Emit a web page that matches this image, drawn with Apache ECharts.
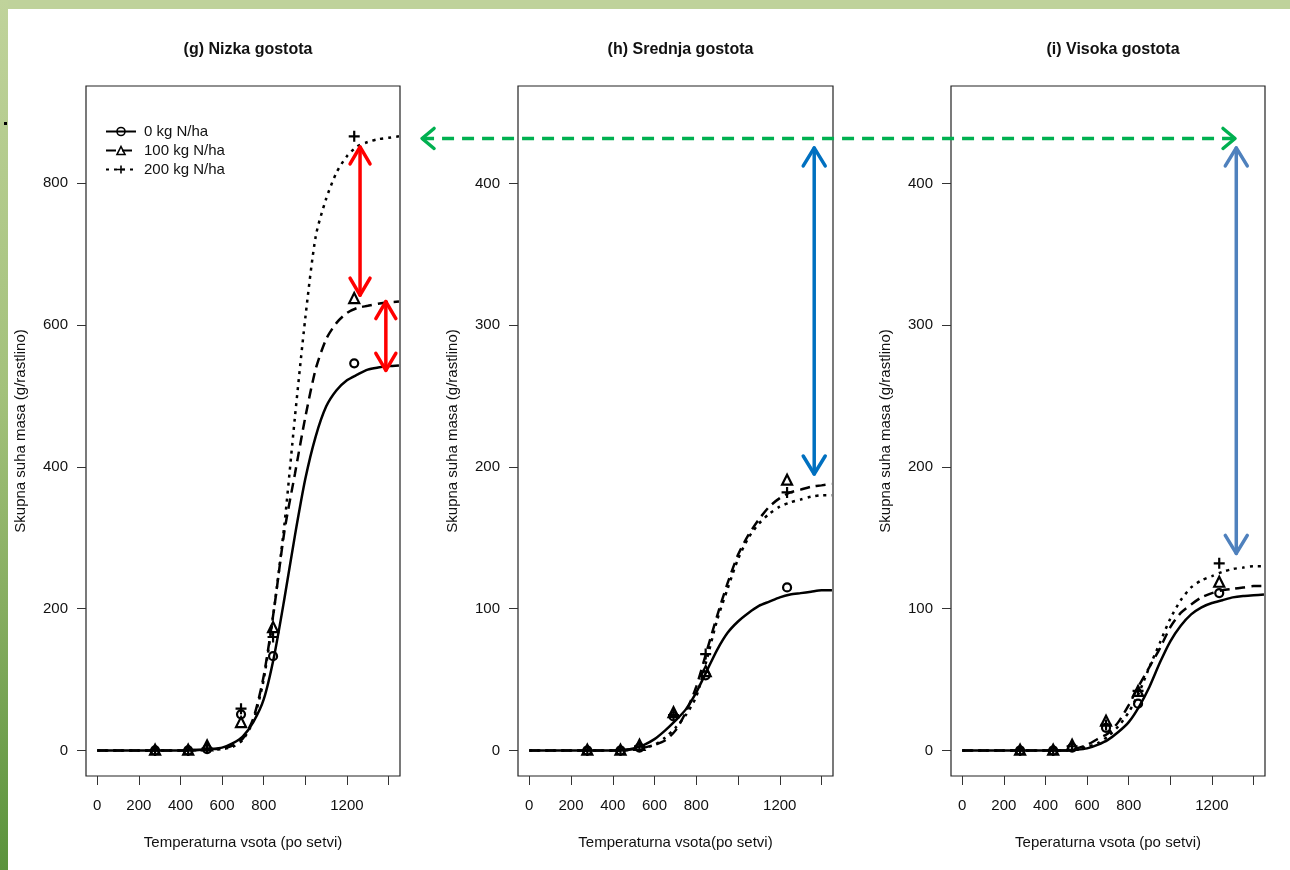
<!DOCTYPE html>
<html><head><meta charset="utf-8">
<script src="https://cdn.jsdelivr.net/npm/echarts@6/dist/echarts.min.js"></script>
<style>html,body{margin:0;padding:0;background:#fff}#c{width:1290px;height:870px}</style>
</head><body><div id="c"></div>
<script>
// ---------- data ----------
const seriesNames = ['0 kg N/ha', '100 kg N/ha', '200 kg N/ha'];
const panelTitles = ['(g) Nizka gostota', '(h) Srednja gostota', '(i) Visoka gostota'];
const xTitles = ['Temperaturna vsota (po setvi)', 'Temperaturna vsota(po setvi)', 'Teperaturna vsota (po setvi)'];
const yTitle = 'Skupna suha masa (g/rastlino)';
const xTicks = [0, 200, 400, 600, 800, 1000, 1200, 1400];
const xTickLabels = [0, 200, 400, 600, 800, 1200];
const yTicksG = [0, 200, 400, 600, 800];
const yTicksHI = [0, 100, 200, 300, 400];

// fitted curves
const curveX = [0, 100, 200, 300, 400, 450, 500, 550, 600, 650, 700, 750, 800, 850, 900, 950, 1000, 1050, 1100, 1150, 1200, 1250, 1300, 1350, 1400, 1450];
const curveG0 = [0, 0, 0, 0, 0, 0.5, 1, 2, 4, 10, 20, 40, 72, 133, 215, 303, 383, 443, 485, 508, 522, 530, 537, 540, 542, 543];
const curveG100 = [0, 0, 0, 0, 0, 0.5, 1, 2, 3, 7, 17, 45, 105, 200, 310, 390, 470, 538, 580, 603, 617, 624, 627, 630, 632, 633];
const curveG200 = [0, 0, 0, 0, 0, 0, 0.5, 1, 2, 5, 15, 42, 100, 200, 320, 470, 610, 725, 778, 815, 838, 852, 858, 862, 864, 866];
const curveH0 = [0, 0, 0, 0, 0, 0.5, 1.5, 4, 8, 14, 21, 29, 41, 56, 71, 83, 91, 97, 102, 105, 108, 110, 111, 112, 113, 113];
const curveH100 = [0, 0, 0, 0, 0, 0, 1, 2, 4, 7, 14, 27, 45, 70, 95, 118, 138, 152, 163, 172, 178, 182, 184, 186, 187, 188];
const curveH200 = [0, 0, 0, 0, 0, 0, 1, 2, 4, 9, 16, 25, 38, 64, 92, 114, 135, 150, 160, 167, 172, 175, 177, 179, 180, 180];
const curveI0 = [0, 0, 0, 0, 0, 0, 0, 0.5, 1.5, 4, 7.5, 13, 20, 31, 45, 62, 77, 88, 96, 101, 104, 106, 108, 109, 109.5, 110];
const curveI100 = [0, 0, 0, 0, 0, 0, 0, 1.5, 4, 8, 12, 20, 32, 46, 59, 72, 87, 97, 103, 108, 111, 113, 114, 115, 116, 116];
const curveI200 = [0, 0, 0, 0, 0, 0, 0, 1, 2.5, 5, 10, 17, 27, 41, 59, 76, 93, 106, 115, 120, 123, 126, 128, 129, 130, 130];

// measured points
const pointX = [278, 437, 528, 691, 845, 1235];
const pointsG0 = [0, 0, 2, 51, 133, 546];
const pointsG100 = [1, 1, 7, 40, 174, 638];
const pointsG200 = [0, 0, 3, 59, 160, 866];
const pointsH0 = [0, 0, 2, 24, 53, 115];
const pointsH100 = [0.5, 0.5, 4, 27, 56, 191];
const pointsH200 = [0, 0, 3, 25, 68, 182];
const pointsI0 = [0, 0, 2, 16, 33, 111];
const pointsI100 = [0.5, 0.5, 4, 21, 42, 119];
const pointsI200 = [0, 0, 3, 18, 42, 132];

// ---------- style ----------
const FONT = '"Liberation Sans", Arial, Helvetica, sans-serif';
const gridBoxes = [
  { left: 86, top: 86, width: 314, height: 690 },
  { left: 518, top: 86, width: 315, height: 690 },
  { left: 951, top: 86, width: 314, height: 690 }
];
const xRange = [-54, 1455];
const yRanges = [[-36, 937], [-18, 468.7], [-18, 468.7]];
const yTickSets = [yTicksG, yTicksHI, yTicksHI];
const curves = [[curveG0, curveG100, curveG200], [curveH0, curveH100, curveH200], [curveI0, curveI100, curveI200]];
const points = [[pointsG0, pointsG100, pointsG200], [pointsH0, pointsH100, pointsH200], [pointsI0, pointsI100, pointsI200]];
const lineTypes = ['solid', [10, 6], [3, 5]];
const PLUS = 'path://M5,0L5,10M0,5L10,5';
const symbols = ['circle', 'triangle', PLUS];
const symbolSizes = [8, 10, 11];

const chart = echarts.init(document.getElementById('c'), null, { renderer: 'canvas' });

const grid = gridBoxes.map(b => Object.assign({ show: true, borderColor: '#222', borderWidth: 1.2, backgroundColor: 'transparent' }, b));

const xAxis = gridBoxes.map((b, i) => ({
  type: 'value', gridIndex: i, min: xRange[0], max: xRange[1], position: 'bottom',
  name: xTitles[i], nameLocation: 'middle', nameGap: 59,
  nameTextStyle: { fontSize: 15, color: '#111', fontFamily: FONT },
  axisLine: { show: false, onZero: false },
  axisTick: { show: true, inside: false, customValues: xTicks, length: 9, lineStyle: { color: '#333', width: 1 } },
  axisLabel: { customValues: xTickLabels, margin: 22, fontSize: 15, color: '#111', fontFamily: FONT, formatter: v => String(v) },
  splitLine: { show: false }
}));

const yAxis = gridBoxes.map((b, i) => ({
  type: 'value', gridIndex: i, min: yRanges[i][0], max: yRanges[i][1], position: 'left',
  name: yTitle, nameLocation: 'middle', nameGap: 58, nameRotate: 90,
  nameTextStyle: { fontSize: 15, color: '#111', fontFamily: FONT },
  axisLine: { show: false, onZero: false },
  axisTick: { show: true, inside: false, customValues: yTickSets[i], length: 9, lineStyle: { color: '#333', width: 1 } },
  axisLabel: { customValues: yTickSets[i], margin: 18, fontSize: 15, color: '#111', fontFamily: FONT, formatter: v => String(v) },
  splitLine: { show: false }
}));

const series = [];
// curves first (legend icons come from the first series of each name)
for (let p = 0; p < 3; p++) {
  for (let s = 0; s < 3; s++) {
    series.push({
      type: 'line', name: seriesNames[s], xAxisIndex: p, yAxisIndex: p,
      data: curveX.map((x, k) => [x, curves[p][s][k]]),
      showSymbol: false, symbol: symbols[s], symbolSize: symbolSizes[s],
      smooth: 0.25, clip: true, silent: true,
      itemStyle: { color: 'rgba(0,0,0,0)', borderColor: '#000', borderWidth: 1.6 },
      lineStyle: { color: '#000', width: 2.5, type: lineTypes[s] },
      z: 2
    });
  }
}
for (let p = 0; p < 3; p++) {
  for (let s = 0; s < 3; s++) {
    series.push({
      type: 'scatter', name: seriesNames[s], xAxisIndex: p, yAxisIndex: p,
      data: pointX.map((x, k) => [x, points[p][s][k]]),
      symbol: symbols[s], symbolSize: symbolSizes[s], silent: true,
      itemStyle: { color: 'rgba(0,0,0,0)', borderColor: '#000', borderWidth: 2.2, opacity: 1 },
      z: 3
    });
  }
}

const bgGraphics = [
  { type: 'rect', id: 'bgTop', shape: { x: 0, y: 0, width: 1290, height: 9 }, style: { fill: '#bfd29b' }, z: -10, silent: true },
  { type: 'rect', id: 'bgLeft', shape: { x: 0, y: 0, width: 8, height: 870 },
    style: { fill: new echarts.graphic.LinearGradient(0, 0, 0, 1, [
      { offset: 0, color: '#c0d39b' }, { offset: 0.45, color: '#a3c17b' },
      { offset: 0.7, color: '#86ad60' }, { offset: 1, color: '#5b933d' }]) }, z: -10, silent: true },
  { type: 'rect', id: 'dot', shape: { x: 4, y: 122, width: 3, height: 3 }, style: { fill: '#000' }, z: 10, silent: true }
];

const option = {
  backgroundColor: '#fff',
  animation: false,
  title: panelTitles.map((t, i) => ({
    text: t, left: gridBoxes[i].left + gridBoxes[i].width / 2, top: 37, textAlign: 'center',
    textStyle: { fontSize: 16, fontWeight: 'bold', color: '#111', fontFamily: FONT }
  })),
  legend: {
    data: seriesNames, orient: 'vertical', left: 100, top: 119,
    itemWidth: 30, itemHeight: 10, itemGap: 4, selectedMode: false,
    textStyle: { fontSize: 15, lineHeight: 15, color: '#111', fontFamily: FONT, padding: [0, 0, 0, 3] },
    itemStyle: { color: 'rgba(0,0,0,0)', borderColor: '#000', borderWidth: 1.6 },
    lineStyle: { width: 2 }
  },
  grid, xAxis, yAxis, series,
  graphic: { elements: bgGraphics }
};
chart.setOption(option);

// ---------- annotation arrows (anchored in data space) ----------
const annotations = [
  { id: 'r1', g1: 0, a: [1263, 851], g2: 0, b: [1263, 642], color: '#ff0000', width: 3.5, dash: null, head: [17, 10] },
  { id: 'r2', g1: 0, a: [1387, 633], g2: 0, b: [1387, 536], color: '#ff0000', width: 3.5, dash: null, head: [17, 10] },
  { id: 'gr', g1: 0, a: [1561, 863], g2: 2, b: [1311, 431.7], color: '#00b050', width: 3.5, dash: [12, 8], head: [12, 10] },
  { id: 'b1', g1: 1, a: [1365, 425], g2: 1, b: [1365, 195], color: '#0070c0', width: 3.5, dash: null, head: [18, 11] },
  { id: 'b2', g1: 2, a: [1317, 425], g2: 2, b: [1317, 139], color: '#4f81bd', width: 3.5, dash: null, head: [18, 11] }
];

function arrowEls(an) {
  const p1 = chart.convertToPixel({ gridIndex: an.g1 }, an.a);
  const p2 = chart.convertToPixel({ gridIndex: an.g2 }, an.b);
  if (an.id === 'gr') p2[1] = p1[1];
  const els = [{
    type: 'line', id: an.id + 's', z: 100, silent: true,
    shape: { x1: p1[0], y1: p1[1], x2: p2[0], y2: p2[1] },
    style: { stroke: an.color, lineWidth: an.width, lineDash: an.dash, lineCap: an.dash ? 'butt' : 'round' }
  }];
  [[p1, p2, 'h1'], [p2, p1, 'h2']].forEach(([tip, from, k]) => {
    const dx = from[0] - tip[0], dy = from[1] - tip[1];
    const L = Math.hypot(dx, dy), ux = dx / L, uy = dy / L;
    const bx = tip[0] + ux * an.head[0], by = tip[1] + uy * an.head[0];
    const px = -uy * an.head[1], py = ux * an.head[1];
    els.push({
      type: 'polyline', id: an.id + k, z: 101, silent: true,
      shape: { points: [[bx + px, by + py], [tip[0], tip[1]], [bx - px, by - py]] },
      style: { stroke: an.color, lineWidth: an.width, fill: null, lineCap: 'round', lineJoin: 'round' }
    });
  });
  return els;
}
let arrowGraphics = [];
annotations.forEach(an => { arrowGraphics = arrowGraphics.concat(arrowEls(an)); });
chart.setOption({ graphic: { elements: bgGraphics.concat(arrowGraphics) } });
</script>
</body></html>
